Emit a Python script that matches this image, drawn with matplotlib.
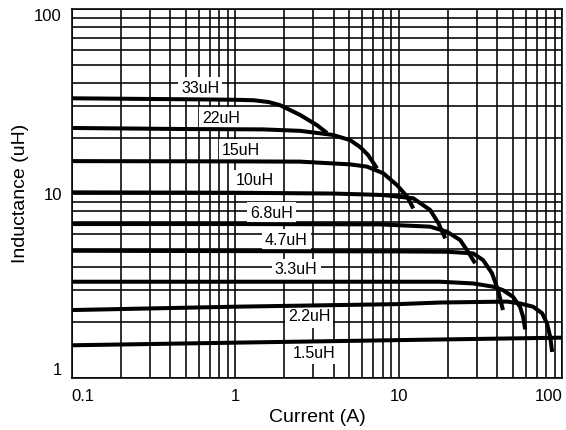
import matplotlib
matplotlib.use("Agg")
import matplotlib.pyplot as plt
from matplotlib.ticker import LogLocator, FixedLocator, NullFormatter

plt.rcParams['font.family'] = ['Liberation Sans', 'DejaVu Sans']

# curves: current (A) / inductance (uH)
i33 = [0.1, 0.5, 1.0, 1.3, 1.6, 1.88, 2.5, 3.17, 3.65]
l33 = [32.9, 32.5, 32.3, 32.1, 31.4, 30.2, 26.7, 23.5, 21.3]

i22 = [0.1, 0.5, 1.48, 2.5, 3.97, 5.05, 5.81, 6.5, 7.38]
l22 = [22.7, 22.4, 22.3, 21.9, 20.8, 19.5, 17.9, 16.2, 13.7]

i15 = [0.1, 1.0, 2.5, 5.05, 6.41, 8.04, 9.79, 11.3, 12.3]
l15 = [15.0, 14.95, 14.9, 14.4, 14.0, 12.9, 11.1, 9.6, 8.3]

i10 = [0.1, 1.0, 4.0, 8.04, 12.3, 15.6, 17.5, 19.3]
l10 = [10.15, 10.1, 10.0, 9.82, 9.42, 8.14, 6.92, 5.71]

i68 = [0.1, 1.0, 7.7, 15.6, 19.8, 23.8, 26.6, 29.4]
l68 = [6.83, 6.83, 6.8, 6.61, 6.2, 5.59, 4.83, 4.18]

i47 = [0.1, 1.0, 10.0, 19.8, 28.6, 32.9, 37.3, 40.6, 43.5]
l47 = [4.89, 4.87, 4.85, 4.83, 4.73, 4.35, 3.69, 2.99, 2.33]

i33b = [0.1, 1.0, 17.9, 28.6, 37.9, 43.5, 50.1, 55.3, 57.8, 59.5]
l33b = [3.32, 3.32, 3.32, 3.25, 3.12, 2.99, 2.75, 2.43, 2.14, 1.83]

i22b = [0.1, 1.0, 10.0, 17.9, 46.1, 55.3, 66.5, 75.5, 81.0, 84.6, 87.0]
l22b = [2.33, 2.43, 2.51, 2.56, 2.59, 2.53, 2.43, 2.24, 1.97, 1.67, 1.38]

i15b = [0.1, 1.0, 10.0, 100.0, 103.0]
l15b = [1.50, 1.55, 1.60, 1.65, 1.66]

curves_i = [i33, i22, i15, i10, i68, i47, i33b, i22b, i15b]
curves_l = [l33, l22, l15, l10, l68, l47, l33b, l22b, l15b]

names = ['33uH', '22uH', '15uH', '10uH', '6.8uH', '4.7uH', '3.3uH', '2.2uH', '1.5uH']
name_x = [0.61, 0.82, 1.09, 1.32, 1.66, 2.05, 2.36, 2.83, 3.04]
name_y = [37.4, 25.7, 17.2, 11.7, 7.83, 5.59, 3.85, 2.14, 1.36]

xticks = [0.1, 1, 10, 100]
xtick_labels = ['0.1', '1', '10', '100']
yticks = [1, 10, 100]
ytick_labels = ['1', '10', '100']

fig = plt.figure(figsize=(5.66, 4.30), dpi=100)
ax = fig.add_axes([0.1267, 0.1216, 0.8663, 0.8566])

for xs, ys in zip(curves_i, curves_l):
    ax.plot(xs, ys, color='black', lw=2.9, solid_capstyle='butt', zorder=4)

for n, tx, ty in zip(names, name_x, name_y):
    ax.text(tx, ty, n, fontsize=11.5, ha='center', va='center', zorder=3,
            bbox=dict(boxstyle='square,pad=0.2', fc='white', ec='none'))

ax.set_xscale('log')
ax.set_yscale('log')
ax.set_xlim(0.1, 100)
ax.set_ylim(1, 100)

ax.xaxis.set_major_locator(FixedLocator(xticks))
ax.yaxis.set_major_locator(FixedLocator(yticks))
ax.set_xticklabels(xtick_labels)
ax.set_yticklabels(ytick_labels)
ax.xaxis.set_minor_locator(LogLocator(base=10, subs=range(2, 10), numticks=20))
ax.yaxis.set_minor_locator(LogLocator(base=10, subs=range(2, 10), numticks=20))
ax.xaxis.set_minor_formatter(NullFormatter())
ax.yaxis.set_minor_formatter(NullFormatter())
ax.tick_params(which='both', length=0, labelsize=12)
ax.tick_params(axis='x', pad=8)
ax.tick_params(axis='y', pad=7)

# end labels sit inside the axis span like in the original
xl = ax.get_xticklabels()
xl[0].set_ha('left')
xl[-1].set_ha('right')
yl = ax.get_yticklabels()
yl[0].set_va('bottom')
yl[-1].set_va('top')

ax.grid(which='both', color='black', lw=1.15, zorder=1)
ax.set_axisbelow(True)
for s in ax.spines.values():
    s.set_color('black')
    s.set_linewidth(1.15)

ax.set_xlabel('Current (A)', fontsize=14, labelpad=4)
ax.set_ylabel('Inductance (uH)', fontsize=14, labelpad=4)

fig.savefig('out.png', dpi=100)
